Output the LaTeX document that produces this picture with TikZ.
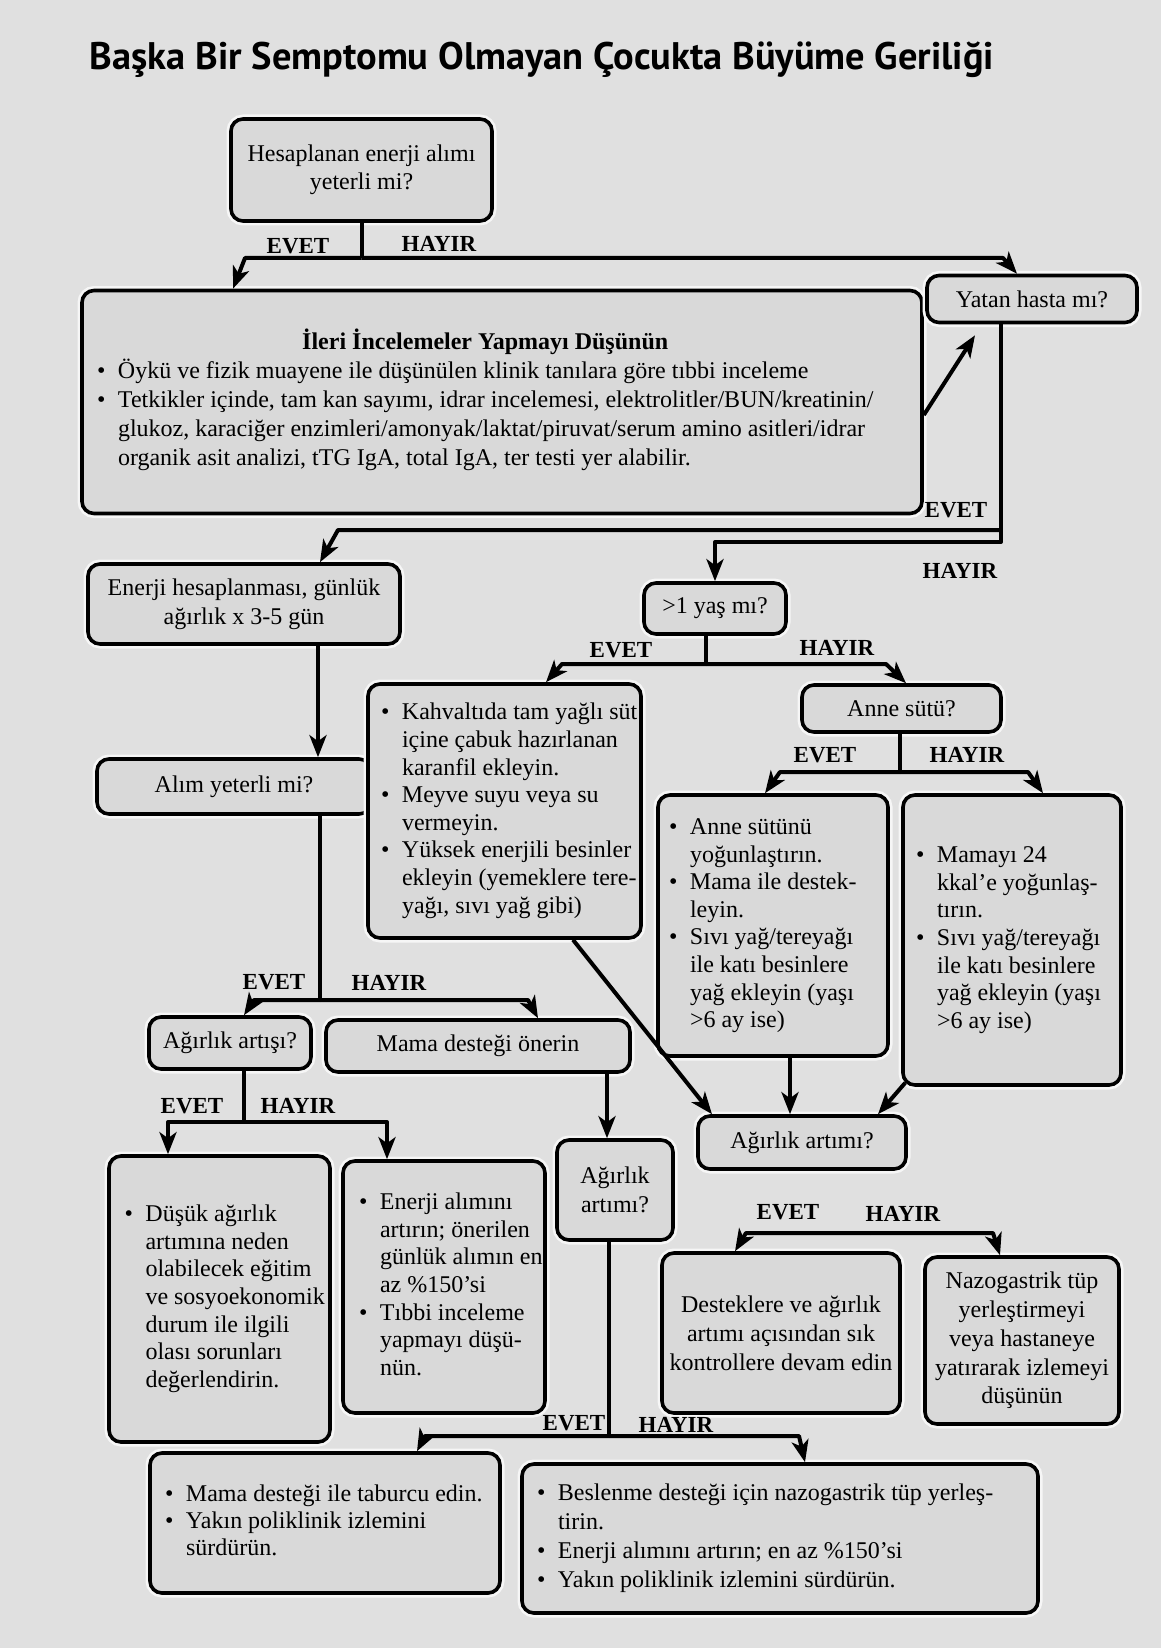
\documentclass[tikz,border=0pt]{standalone}
\usepackage{fontspec}
\setmainfont{Liberation Serif}
\newfontfamily\titlefont{PT Sans}
\usepackage{graphicx}
\usetikzlibrary{arrows.meta,calc}
\definecolor{bgc}{RGB}{224,224,224}
\definecolor{boxc}{RGB}{217,217,217}
\definecolor{haloc}{RGB}{246,246,246}
\newcommand{\bl}{\makebox[10.5pt][l]{\textbullet}}
\newcommand{\ci}{\hspace*{10.5pt}}
\newcommand{\blist}[2]{\makebox[#1][l]{\begin{tabular}{@{}l@{}}#2\end{tabular}}}
\tikzset{
  box/.style={draw, line width=1.8pt, rounded corners=6pt, fill=boxc, inner sep=2pt,
    preaction={draw=haloc, line width=4.5pt}},
  ctext/.style={align=center, font=\fontsize{12}{14.4}\selectfont},
  btext/.style={font=\fontsize{12}{13.8}\selectfont},
  conn/.style={line width=2pt, line join=round},
  arr/.style={line width=2pt, line join=round, -{Stealth[length=11pt,width=8.5pt,inset=3pt]}},
  yn/.style={font=\fontsize{11.5}{13}\selectfont\bfseries, inner sep=0pt},
}
\begin{document}
\begin{tikzpicture}[x=0.5pt,y=-0.5pt]
\fill[bgc] (0,0) rectangle (1161,1648);
\useasboundingbox (0,0) rectangle (1161,1648);

% title
\node (title) at (542,60) {\titlefont\bfseries\fontsize{19.2}{21}\selectfont Başka Bir Semptomu Olmayan Çocukta Büyüme Geriliği};

% boxes
\node[box, ctext, minimum width=130.5pt, minimum height=51pt, font=\fontsize{12}{14}\selectfont] (q1) at (361.5,170) {Hesaplanan enerji alımı\\yeterli mi?};

\node[box, minimum width=420pt, minimum height=111.5pt, font=\fontsize{12}{14.5}\selectfont] (big) at (502,402) {\blist{405pt}{\multicolumn{1}{c}{\bfseries İleri İncelemeler Yapmayı Düşünün}\\
\bl Öykü ve fizik muayene ile düşünülen klinik tanılara göre tıbbi inceleme\\
\bl Tetkikler içinde, tam kan sayımı, idrar incelemesi, elektrolitler/BUN/kreatinin/\\
\ci glukoz, karaciğer enzimleri/amonyak/laktat/piruvat/serum amino asitleri/idrar\\
\ci organik asit analizi, tTG IgA, total IgA, ter testi yer alabilir.}};

\node[box, ctext, minimum width=105pt, minimum height=23.5pt] (yat) at (1032,299) {Yatan hasta mı?};

\node[box, ctext, minimum width=156pt, minimum height=40pt] (en) at (244,604) {Enerji hesaplanması, günlük\\ağırlık x 3-5 gün};

\node[box, ctext, minimum width=71pt, minimum height=25.5pt] (yas) at (715,608.5) {>1 yaş mı?};

\node[box, ctext, minimum width=137pt, minimum height=27.5pt] (alim) at (234,786.5) {Alım yeterli mi?};

\node[box, btext, minimum width=136.5pt, minimum height=127pt] (kahv) at (504.5,811) {\blist{123.5pt}{\bl Kahvaltıda tam yağlı süt\\
\ci içine çabuk hazırlanan\\
\ci karanfil ekleyin.\\
\bl Meyve suyu veya su\\
\ci vermeyin.\\
\bl Yüksek enerjili besinler\\
\ci ekleyin (yemeklere tere-\\
\ci yağı, sıvı yağ gibi)}};

\node[box, ctext, minimum width=99.5pt, minimum height=23.5pt] (anne) at (901.5,708.5) {Anne sütü?};

\node[box, btext, minimum width=115pt, minimum height=130.5pt] (ansu) at (773,925.5) {\blist{104pt}{\bl Anne sütünü\\
\ci yoğunlaştırın.\\
\bl Mama ile destek-\\
\ci leyin.\\
\bl Sıvı yağ/tereyağı\\
\ci ile katı besinlere\\
\ci yağ ekleyin (yaşı\\
\ci >6 ay ise)}};

\node[box, btext, minimum width=109pt, minimum height=145pt] (mam) at (1012,940) {\blist{96pt}{\bl Mamayı 24\\
\ci kkal’e yoğunlaş-\\
\ci tırın.\\
\bl Sıvı yağ/tereyağı\\
\ci ile katı besinlere\\
\ci yağ ekleyin (yaşı\\
\ci >6 ay ise)}};

\node[box, ctext, minimum width=81pt, minimum height=26pt] (ag1) at (230,1043) {Ağırlık artışı?};
\node[box, ctext, minimum width=152pt, minimum height=26pt] (mama) at (478,1046) {Mama desteği önerin};
\node[box, ctext, minimum width=104pt, minimum height=26.5pt] (ag2) at (802,1142.5) {Ağırlık artımı?};

\node[box, btext, minimum width=110.5pt, minimum height=143pt] (dusuk) at (219.5,1299) {\blist{95pt}{\bl Düşük ağırlık\\
\ci artımına neden\\
\ci olabilecek eğitim\\
\ci ve sosyoekonomik\\
\ci durum ile ilgili\\
\ci olası sorunları\\
\ci değerlendirin.}};

\node[box, btext, minimum width=101pt, minimum height=126pt] (enart) at (444,1287) {\blist{85pt}{\bl Enerji alımını\\
\ci artırın; önerilen\\
\ci günlük alımın en\\
\ci az \%150’si\\
\bl Tıbbi inceleme\\
\ci yapmayı düşü-\\
\ci nün.}};

\node[box, ctext, minimum width=58pt, minimum height=50pt] (ag3) at (615,1190) {Ağırlık\\artımı?};

\node[box, ctext, minimum width=119pt, minimum height=80pt] (dest) at (781,1333) {Desteklere ve ağırlık\\artımı açısından sık\\kontrollere devam edin};

\node[box, ctext, minimum width=97pt, minimum height=83.5pt] (nazo) at (1022,1340.5) {Nazogastrik tüp\\yerleştirmeyi\\veya hastaneye\\yatırarak izlemeyi\\düşünün};

\node[box, font=\fontsize{12}{13.5}\selectfont, minimum width=175pt, minimum height=70pt] (tab) at (325,1523) {\blist{160pt}{\bl Mama desteği ile taburcu edin.\\
\bl Yakın poliklinik izlemini\\
\ci sürdürün.}};

\node[box, font=\fontsize{12}{14.5}\selectfont, minimum width=258pt, minimum height=74.5pt] (besl) at (780,1538.5) {\blist{243pt}{\bl Beslenme desteği için nazogastrik tüp yerleş-\\
\ci tirin.\\
\bl Enerji alımını artırın; en az \%150’si\\
\bl Yakın poliklinik izlemini sürdürün.}};

% connectors
\coordinate (j1) at (q1.south |- 0,258);
\draw[conn] (q1.south) -- (j1);
\draw[arr] (j1) -- (245,258) -- (big.north -| 233,0);
\draw[arr] (j1) -- (1003,258) -- (yat.north -| 1017,0);

\draw[arr] (big.east |- 0,415) -- ($(yat.south -| 975,0)+(0,11)$);

\coordinate (j2e) at (1001,530);
\draw[arr] (yat.south -| 1001,0) -- (1001,542) -- (yas.north |- 0,542) -- (yas.north);
\draw[arr] (j2e) -- (338,530) -- (en.north -| 320,0);

\coordinate (j3) at (706,664);
\draw[conn] (yas.south -| 706,0) -- (j3);
\draw[arr] (j3) -- (562,664) -- (kahv.north -| 546,0);
\draw[arr] (j3) -- (886,664) -- (anne.north -| 906,0);

\coordinate (j4) at (900,772);
\draw[conn] (anne.south -| 900,0) -- (j4);
\draw[arr] (j4) -- (780,772) -- (ansu.north -| 765,0);
\draw[arr] (j4) -- (1028,772) -- (mam.north -| 1043,0);

\draw[arr] (kahv.south -| 573,0) -- (ag2.north -| 712,0);
\draw[arr] (ansu.south -| 790,0) -- (ag2.north -| 790,0);
\draw[arr] ($(mam.south west)+(4,-4)$) -- (ag2.north -| 878,0);

\coordinate (j5) at (870,1233);
\draw[arr] (j5) -- (746,1233) -- (dest.north -| 735,0);
\draw[arr] (j5) -- (993,1233) -- (nazo.north -| 1000,0);

\draw[arr] (en.south -| 318,0) -- (alim.north -| 318,0);
\coordinate (j6) at (320,1000);
\draw[conn] (alim.south -| 320,0) -- (j6);
\draw[arr] (j6) -- (254,1000) -- (ag1.north -| 244,0);
\draw[arr] (j6) -- (528,1000) -- (mama.north -| 538,0);

\coordinate (j7) at (244,1122);
\draw[conn] (ag1.south -| 244,0) -- (j7);
\draw[arr] (j7) -- (168,1122) -- (dusuk.north -| 168,0);
\draw[arr] (j7) -- (387,1122) -- (enart.north -| 387,0);

\draw[arr] (mama.south -| 607,0) -- (ag3.north -| 607,0);
\coordinate (j8) at (609,1436);
\draw[conn] (ag3.south -| 609,0) -- (j8);
\draw[arr] (j8) -- (425,1436) -- (tab.north -| 417,0);
\draw[arr] (j8) -- (799,1436) -- (besl.north -| 805,0);

% labels
\node[yn] (l1e) at (298,246) {EVET};
\node[yn] (l1h) at (439,244) {HAYIR};
\node[yn] (l2e) at (956,510) {EVET};
\node[yn] (l2h) at (960,571) {HAYIR};
\node[yn] (l3e) at (621,650) {EVET};
\node[yn] (l3h) at (837,648) {HAYIR};
\node[yn] (l4e) at (825,755) {EVET};
\node[yn] (l4h) at (967,755) {HAYIR};
\node[yn] (l5e) at (788,1212) {EVET};
\node[yn] (l5h) at (903,1214) {HAYIR};
\node[yn] (l6e) at (274,982) {EVET};
\node[yn] (l6h) at (389,983) {HAYIR};
\node[yn] (l7e) at (192,1106) {EVET};
\node[yn] (l7h) at (298,1106) {HAYIR};
\node[yn] (l8e) at (574,1423) {EVET};
\node[yn] (l8h) at (676,1425) {HAYIR};
\end{tikzpicture}
\end{document}
